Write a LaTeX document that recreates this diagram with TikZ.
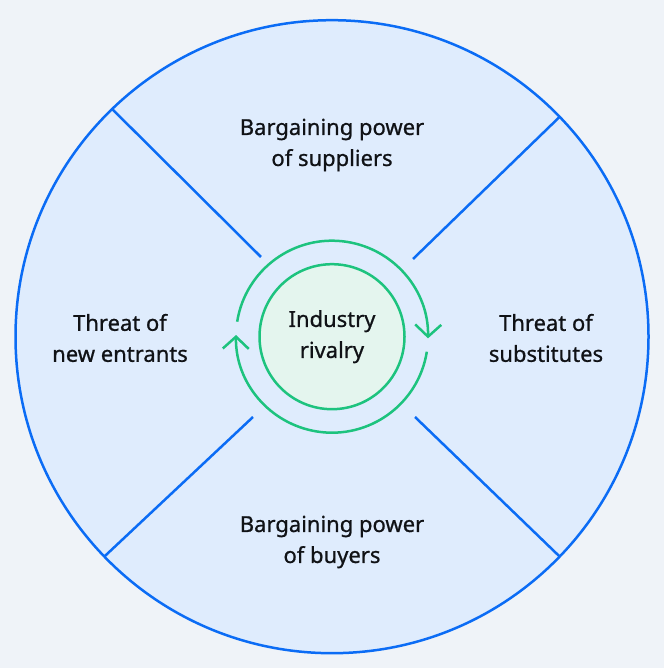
\documentclass[tikz,border=0pt]{standalone}
\usepackage{fontspec}
\setmainfont{Noto Sans}[UprightFeatures={FakeBold=0.8}]
\usepackage{tikz}
\usetikzlibrary{arrows.meta}

\definecolor{pagebg}{HTML}{EFF3F8}
\definecolor{wheelfill}{HTML}{DFECFD}
\definecolor{wheelline}{HTML}{0B6CF5}
\definecolor{rivalgreen}{HTML}{1DC37E}
\definecolor{rivalfill}{HTML}{E4F5EE}
\definecolor{inkdark}{HTML}{101216}

\begin{document}
\begin{tikzpicture}[x=1pt, y=1pt,
	forcetext/.style={align=center, font=\fontsize{22}{31}\selectfont, text=inkdark},
	divider/.style={wheelline, line width=2.5pt},
	ringarrow/.style={rivalgreen, line width=2.5pt, -{Straight Barb[length=12pt,width=26pt]}}]
	\useasboundingbox (0,0) rectangle (664,668);
	\fill [pagebg] (0,0) rectangle (664,668);
	\node [circle, draw=wheelline, fill=wheelfill, line width=2.5pt, minimum size=633pt, inner sep=0pt, outer sep=0pt] (wheel) at (332,331.3) {};
	\coordinate (ul) at (261,411);
	\coordinate (ur) at (413,409);
	\coordinate (ll) at (253,251);
	\coordinate (lr) at (415,251);
	\draw [divider] (wheel.134.2) -- (ul);
	\draw [divider] (wheel.44.2) -- (ur);
	\draw [divider] (wheel.224.8) -- (ll);
	\draw [divider] (wheel.-44.5) -- (lr);
	\node [circle, draw=rivalgreen, fill=rivalfill, line width=2.5pt, minimum size=145pt, inner sep=0pt, forcetext] (rivalry) at (332,331.3) {Industry\\rivalry};
	\draw [ringarrow] ([shift={(171:96)}]rivalry.center) arc [start angle=171, end angle=-1, radius=96];
	\draw [ringarrow] ([shift={(-9:96)}]rivalry.center) arc [start angle=-9, end angle=-181, radius=96];
	\node [forcetext] (suppliers) at (332,523) {Bargaining power\\of suppliers};
	\node [forcetext] (entrants) at (120,330) {Threat of\\new entrants};
	\node [forcetext] (substitutes) at (546,330) {Threat of\\substitutes};
	\node [forcetext] (buyers) at (332,126) {Bargaining power\\of buyers};
\end{tikzpicture}
\end{document}
